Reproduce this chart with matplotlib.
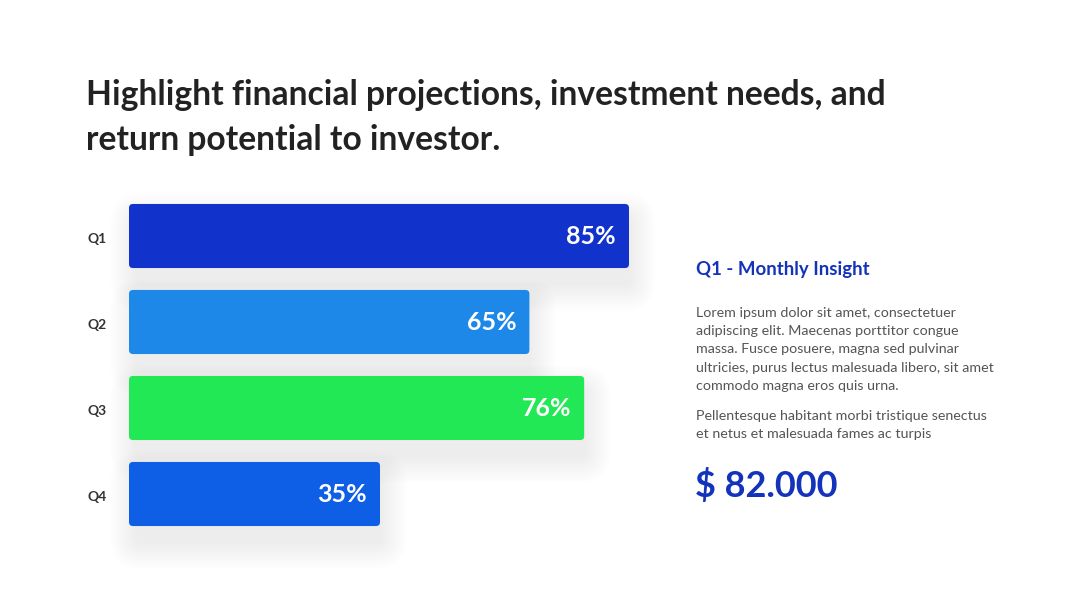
import matplotlib
matplotlib.use("Agg")
import matplotlib.pyplot as plt
from matplotlib.patches import FancyBboxPatch

plt.rcParams['font.family'] = ['Lato', 'DejaVu Sans']

categories = ["Q1", "Q2", "Q3", "Q4"]
values = [85, 65, 76, 35]
value_labels = ["85%", "65%", "76%", "35%"]
colors = ["#1232CC", "#1E88E8", "#22E855", "#0F5FE6"]
base = -15.4

title = "Highlight financial projections, investment needs, and\nreturn potential to investor."
insight_title = "Q1 - Monthly Insight"
para1 = ("Lorem ipsum dolor sit amet, consectetuer\nadipiscing elit. Maecenas porttitor congue\n"
         "massa. Fusce posuere, magna sed pulvinar\nultricies, purus lectus malesuada libero, sit amet\n"
         "commodo magna eros quis urna.")
para2 = "Pellentesque habitant morbi tristique senectus\net netus et malesuada fames ac turpis"
amount = "$ 82.000"

W, H = 1080, 608
fig = plt.figure(figsize=(W / 100, H / 100), dpi=100)
fig.patch.set_facecolor("white")

def fx(px):
    return px / W

def fy(py):
    return 1 - py / H

ax_left, ax_right = 129, 629
ax_top, ax_bot = 193, 537
ax = fig.add_axes([fx(ax_left), fy(ax_bot), fx(ax_right - ax_left), (ax_bot - ax_top) / H])
ax.set_xlim(base, 85)
ax.set_ylim(3.5, -0.5)
ax.axis("off")

ypos = list(range(len(categories)))
bh = 0.745
bars = ax.barh(ypos, [v - base for v in values], left=base, height=bh, color=colors)

px_per_x = (ax_right - ax_left) / (85 - base)
px_per_y = (ax_bot - ax_top) / 4.0
aspect = px_per_x / px_per_y

def dx(px):
    return px / px_per_x

def dy(px):
    return px / px_per_y

for bar, col, lab in zip(bars, colors, value_labels):
    x0, y0, w, h = bar.get_x(), bar.get_y(), bar.get_width(), bar.get_height()
    bar.set_visible(False)
    # soft shadow
    n = 18
    for k in range(n):
        pad = 1.5 * (k + 1)
        sh = FancyBboxPatch((x0 + dx(8) - dx(pad), y0 + dy(16) - dy(pad)),
                            w - dx(8) + 2 * dx(pad), h + 2 * dy(pad),
                            boxstyle=f"round,pad=0,rounding_size={dx(pad + 4)}",
                            mutation_aspect=aspect, facecolor="#000000", alpha=0.0042,
                            edgecolor="none", zorder=1, clip_on=False)
        ax.add_patch(sh)
    p = FancyBboxPatch((x0, y0), w, h, boxstyle=f"round,pad=0,rounding_size={dx(4)}",
                       mutation_aspect=aspect, facecolor=col, edgecolor="none", zorder=3,
                       clip_on=False)
    ax.add_patch(p)
    ax.text(x0 + w - dx(13), y0 + h / 2, lab, color="white", fontsize=18,
            fontweight="bold", ha="right", va="center", zorder=4)

for y, c in zip(ypos, categories):
    ax.text(base - dx(42), y + dy(3), c, ha="left", va="center", fontsize=10,
            fontweight="bold", color="#333333")

fig.text(fx(86), fy(79), title, ha="left", va="top", fontsize=24.2, fontweight="bold",
         color="#222222", linespacing=1.5)

fig.text(fx(696), fy(270), insight_title, ha="left", va="center", fontsize=13.4,
         fontweight="bold", color="#1433BB")
fig.text(fx(696), fy(307), para1, ha="left", va="top", fontsize=10.3, color="#555555",
         linespacing=1.62)
fig.text(fx(696), fy(410), para2, ha="left", va="top", fontsize=10.3, color="#555555",
         linespacing=1.62)
fig.text(fx(695), fy(485), amount, ha="left", va="center", fontsize=26, fontweight="bold",
         color="#1433BB")

fig.savefig("out.png", dpi=100, facecolor="white")
